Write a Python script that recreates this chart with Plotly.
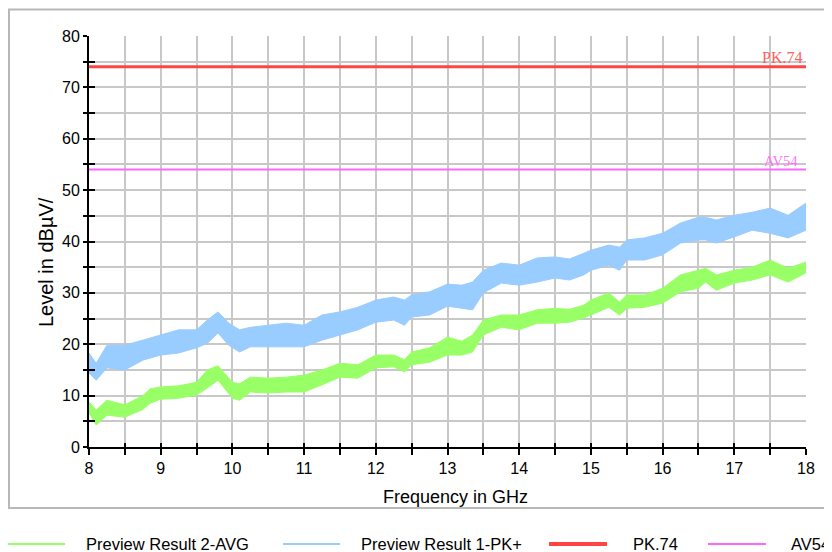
import plotly.graph_objects as go

# ---------------- data ----------------
SERIES_NAMES = ["Preview Result 2-AVG", "Preview Result 1-PK+", "PK.74", "AV54"]

# AVG trace: band envelope (upper / lower edge of the noisy trace), dBµV
FREQ_AVG = [8.0, 8.1, 8.25, 8.5, 8.75, 8.85, 9.0, 9.25, 9.5, 9.65, 9.8, 10.0, 10.1,
            10.25, 10.5, 10.75, 11.0, 11.25, 11.5, 11.75, 12.0, 12.25, 12.4, 12.5,
            12.75, 13.0, 13.2, 13.35, 13.5, 13.75, 14.0, 14.25, 14.5, 14.7, 14.9,
            15.0, 15.25, 15.4, 15.5, 15.75, 16.0, 16.25, 16.5, 16.6, 16.75, 17.0,
            17.25, 17.5, 17.75, 18.0]
AVG_HIGH = [8.8, 7.2, 9.1, 8.2, 10.0, 11.3, 11.7, 11.9, 12.6, 15.0, 15.8, 12.6, 12.3,
            13.6, 13.4, 13.6, 14.0, 15.0, 16.3, 16.0, 17.9, 17.9, 17.0, 18.5,
            19.3, 21.4, 20.6, 21.8, 24.7, 25.7, 25.7, 26.7, 27.0, 26.8, 27.6,
            28.6, 30.0, 28.2, 29.6, 29.6, 30.9, 33.5, 34.4, 34.8, 33.5, 34.4,
            35.0, 36.4, 34.8, 36.0]
AVG_LOW = [6.6, 4.3, 6.2, 5.8, 7.3, 8.5, 9.3, 9.5, 10.1, 11.5, 13.0, 9.5, 9.1,
           10.7, 10.5, 10.7, 10.7, 12.1, 13.6, 13.4, 15.4, 15.6, 14.6, 16.0,
           16.5, 17.9, 17.9, 18.5, 21.8, 23.3, 22.8, 24.1, 24.1, 24.3, 25.1,
           25.7, 27.2, 25.7, 27.0, 27.2, 28.0, 30.2, 30.9, 32.1, 30.5, 31.9,
           32.5, 33.5, 32.1, 33.9]

# PK+ trace: band envelope, dBµV
FREQ_PK = [8.0, 8.1, 8.25, 8.5, 8.75, 9.0, 9.25, 9.5, 9.65, 9.8, 9.95, 10.1, 10.25,
           10.5, 10.75, 11.0, 11.25, 11.5, 11.75, 12.0, 12.25, 12.4, 12.5, 12.75,
           13.0, 13.2, 13.35, 13.5, 13.75, 14.0, 14.25, 14.5, 14.7, 14.9, 15.0,
           15.25, 15.4, 15.5, 15.75, 16.0, 16.25, 16.5, 16.6, 16.75, 17.0, 17.25,
           17.5, 17.75, 18.0]
PK_HIGH = [18.3, 16.3, 19.8, 19.8, 20.8, 21.8, 22.8, 22.8, 24.7, 26.3, 24.1, 22.8, 23.3,
           23.7, 24.1, 23.7, 25.7, 26.3, 27.2, 28.6, 29.2, 28.6, 29.6, 30.2,
           31.7, 31.5, 32.1, 34.4, 35.8, 35.4, 36.8, 37.0, 36.6, 37.7, 38.3,
           39.3, 38.9, 40.3, 40.7, 41.6, 43.6, 44.7, 44.7, 44.2, 45.1, 45.7,
           46.5, 45.1, 47.5]
PK_LOW = [14.4, 13.0, 15.4, 15.0, 16.9, 17.9, 18.3, 19.3, 20.2, 22.2, 19.8, 18.5, 19.5,
          19.5, 19.5, 19.5, 20.8, 21.8, 22.8, 24.3, 24.7, 23.7, 25.3, 25.7,
          27.4, 27.0, 26.7, 30.0, 31.9, 31.5, 32.1, 32.9, 32.5, 33.5, 34.4,
          35.4, 34.4, 36.4, 36.4, 37.4, 39.7, 40.3, 40.3, 39.7, 40.9, 42.2,
          41.6, 40.7, 42.2]

F_START, F_STOP = 8, 18
PK_LIMIT = 74
AV_LIMIT = 54
X_RANGE = [8, 18]
Y_RANGE = [0, 80]

# ---------------- styles ----------------
GREEN = "#99FF66"
BLUE = "#99CCFF"
RED = "#FF4444"
MAGENTA = "#FF66FF"
GRID = "#c8c8c8"
FONT = "Arial, Liberation Sans, sans-serif"
COLORS = [GREEN, BLUE, RED, MAGENTA]
LEG_WIDTHS = [2, 2, 4, 2]

# The page places the figure 8 px from the window's top-left corner,
# so the figure is 8 px smaller and everything is placed relative to the window.
OFF = 8
W, H = 832 - OFF, 552 - OFF
ML, MR, MT, MB = 89 - OFF, 26, 36 - OFF, 105
PW, PH = W - ML - MR, H - MT - MB


def px_x(px):
    """window pixel x -> paper x"""
    return (px - OFF - ML) / PW


def px_y(py):
    """window pixel y -> paper y"""
    return (H - MB - (py - OFF)) / PH


fig = go.Figure()

# bands (noisy measurement traces shown as their envelope)
fig.add_trace(go.Scatter(
    x=FREQ_AVG + FREQ_AVG[::-1], y=AVG_HIGH + AVG_LOW[::-1],
    mode="lines", fill="toself", fillcolor=GREEN, name=SERIES_NAMES[0],
    line=dict(color=GREEN, width=1), showlegend=False, hoverinfo="skip"))
fig.add_trace(go.Scatter(
    x=FREQ_PK + FREQ_PK[::-1], y=PK_HIGH + PK_LOW[::-1],
    mode="lines", fill="toself", fillcolor=BLUE, name=SERIES_NAMES[1],
    line=dict(color=BLUE, width=1), showlegend=False, hoverinfo="skip"))

# limit lines (on overlay axes, which also carry the inner tick halves)
fig.add_trace(go.Scatter(x=[F_START, F_STOP], y=[PK_LIMIT, PK_LIMIT], mode="lines",
                         name=SERIES_NAMES[2], line=dict(color=RED, width=3),
                         xaxis="x2", yaxis="y2", hoverinfo="skip", showlegend=False))
fig.add_trace(go.Scatter(x=[F_START, F_STOP], y=[AV_LIMIT, AV_LIMIT], mode="lines",
                         name=SERIES_NAMES[3], line=dict(color=MAGENTA, width=2),
                         xaxis="x2", yaxis="y2", hoverinfo="skip", showlegend=False))

axis_common = dict(zeroline=False, fixedrange=True, tickcolor="black", tickwidth=1.5)

# legend drawn below the chart frame
LEG_LINE_X = [(6, 65), (283, 340), (549, 607), (708, 766)]
LEG_TEXT_X = [84, 359, 631, 789]
LEG_Y = 544
shapes = [dict(type="rect", xref="paper", yref="paper",
               x0=px_x(9), x1=px_x(840), y0=px_y(508), y1=px_y(9.5),
               line=dict(color="#b8b8b8", width=2), layer="below")]
annotations = []
for name, col, lw, (a, b), tx in zip(SERIES_NAMES, COLORS, LEG_WIDTHS, LEG_LINE_X, LEG_TEXT_X):
    shapes.append(dict(type="line", xref="paper", yref="paper",
                       x0=px_x(max(a, OFF)), x1=px_x(b), y0=px_y(LEG_Y), y1=px_y(LEG_Y),
                       line=dict(color=col, width=lw)))
    annotations.append(dict(text=name, xref="paper", yref="paper", x=px_x(tx), y=px_y(LEG_Y),
                            xanchor="left", yanchor="middle", showarrow=False,
                            font=dict(size=16.5, family=FONT, color="black")))

annotations += [
    dict(text="Frequency in GHz", xref="paper", yref="paper", x=px_x(456), y=px_y(497),
         xanchor="center", yanchor="middle", showarrow=False,
         font=dict(size=18, family=FONT)),
    dict(text="Level in dBµV/", xref="paper", yref="paper", x=px_x(46), y=px_y(262),
         xanchor="center", yanchor="middle", textangle=-90, showarrow=False,
         font=dict(size=20, family=FONT)),
    dict(text="PK.74", xref="x2", yref="y2", x=F_STOP, y=PK_LIMIT,
         xanchor="right", yanchor="bottom", xshift=-2, yshift=-1, showarrow=False,
         font=dict(size=16, family="Liberation Serif, serif", color="#FF6060")),
    dict(text="AV54", xref="x2", yref="y2", x=F_STOP, y=AV_LIMIT,
         xanchor="right", yanchor="bottom", xshift=-6, yshift=-1, showarrow=False,
         font=dict(size=14.5, family="Liberation Serif, serif", color="#FF70FF")),
]

fig.update_layout(
    width=W, height=H,
    margin=dict(l=ML, r=MR, t=MT, b=MB, autoexpand=False),
    paper_bgcolor="white", plot_bgcolor="white",
    font=dict(family=FONT, size=16, color="black"),
    showlegend=False,
    xaxis=dict(range=X_RANGE, tick0=8, dtick=1, ticks="outside", ticklen=6,
               showline=True, linecolor="black", linewidth=2,
               showgrid=True, gridcolor=GRID, gridwidth=1.5,
               minor=dict(dtick=0.5, tick0=8, ticks="outside", ticklen=6, tickwidth=1.5,
                          tickcolor="black", showgrid=True, gridcolor=GRID, gridwidth=1.5),
               tickfont=dict(size=16), **axis_common),
    yaxis=dict(range=Y_RANGE, tick0=0, dtick=10, ticks="outside", ticklen=4,
               showline=True, linecolor="black", linewidth=2,
               showgrid=True, gridcolor=GRID, gridwidth=1.5,
               minor=dict(dtick=5, tick0=0, ticks="outside", ticklen=4, tickwidth=1.5,
                          tickcolor="black", showgrid=True, gridcolor=GRID, gridwidth=1.5),
               tickfont=dict(size=16), **axis_common),
    xaxis2=dict(range=X_RANGE, overlaying="x", anchor="y2", side="bottom",
                tick0=8, dtick=1, ticks="inside", ticklen=4, showticklabels=False,
                showgrid=False, showline=False,
                minor=dict(dtick=0.5, tick0=8, ticks="inside", ticklen=4, tickwidth=1.5,
                           tickcolor="black", showgrid=False),
                **axis_common),
    yaxis2=dict(range=Y_RANGE, overlaying="y", anchor="x2", side="left",
                tick0=0, dtick=10, ticks="inside", ticklen=6, showticklabels=False,
                showgrid=False, showline=False,
                minor=dict(dtick=5, tick0=0, ticks="inside", ticklen=6, tickwidth=1.5,
                           tickcolor="black", showgrid=False),
                **axis_common),
    shapes=shapes,
    annotations=annotations,
)

fig.write_html("out.html")
